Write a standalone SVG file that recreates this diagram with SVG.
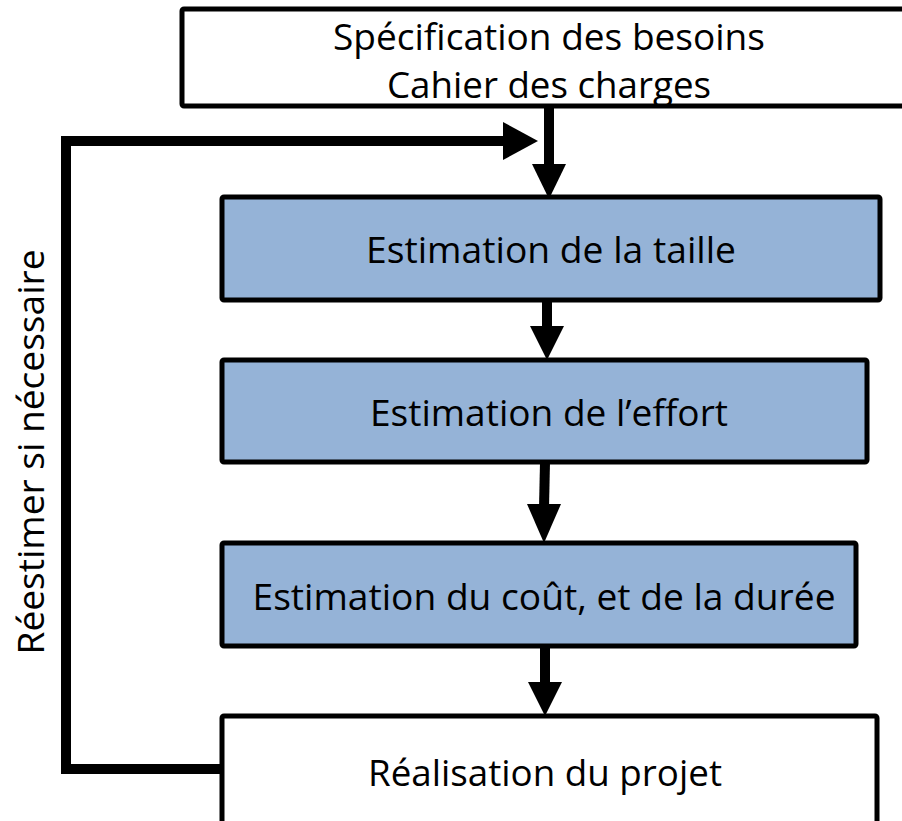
<svg xmlns="http://www.w3.org/2000/svg" width="902" height="821" viewBox="0 0 902 821">
<style>
.box{stroke:#000;stroke-width:5;stroke-linejoin:round}
.w{fill:#fff}
.b{fill:#95B3D7}
.t{font-family:"Open Sans","Liberation Sans",sans-serif;font-size:37px;fill:#000;text-anchor:middle}
.c{stroke:#000;stroke-width:10;fill:none}
</style>
<rect width="902" height="821" fill="#fff"/>
<g id="connectors">
<path class="c" d="M549,106 L549,168" />
<path d="M532,164 L566,164 L549,199 Z" fill="#000"/>
<path class="c" d="M547,300 L547,330" />
<path d="M530,326 L564,326 L547,360 Z" fill="#000"/>
<path class="c" d="M545,462 L544,508" />
<path d="M527,504 L561,504 L544,543 Z" fill="#000"/>
<path class="c" d="M545,646 L545,686" />
<path d="M528,682 L562,682 L545,716 Z" fill="#000"/>
<path class="c" d="M222,769 L66,769 L66,141 L508,141" />
<path d="M503,122 L538,141 L503,160 Z" fill="#000"/>
</g>
<g id="n0">
<rect class="box w" x="182" y="9" width="730" height="97" rx="2"/>
<text class="t" x="549" y="50" textLength="432" lengthAdjust="spacingAndGlyphs">Spécification des besoins</text>
<text class="t" x="549" y="98" textLength="324" lengthAdjust="spacingAndGlyphs">Cahier des charges</text>
</g>
<g id="n1">
<rect class="box b" x="222" y="197" width="658" height="103" rx="2"/>
<text class="t" x="551" y="263" textLength="370" lengthAdjust="spacingAndGlyphs">Estimation de la taille</text>
</g>
<g id="n2">
<rect class="box b" x="222" y="360" width="645" height="102" rx="2"/>
<text class="t" x="549" y="426" textLength="358" lengthAdjust="spacingAndGlyphs">Estimation de l’effort</text>
</g>
<g id="n3">
<rect class="box b" x="222" y="543" width="634" height="103" rx="2"/>
<text class="t" x="544" y="610" textLength="583" lengthAdjust="spacingAndGlyphs">Estimation du coût, et de la durée</text>
</g>
<g id="n4">
<rect class="box w" x="222" y="716" width="655" height="120" rx="2"/>
<text class="t" x="545" y="786" textLength="354" lengthAdjust="spacingAndGlyphs">Réalisation du projet</text>
</g>
<g id="loop-label">
<text class="t" transform="translate(44,452) rotate(-90)" textLength="405" lengthAdjust="spacingAndGlyphs">Réestimer si nécessaire</text>
</g>
</svg>
